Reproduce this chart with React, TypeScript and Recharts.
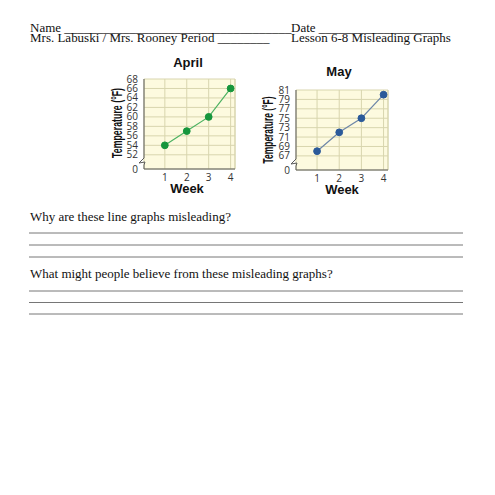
import React from "react";
import { LineChart, Line, XAxis, YAxis, CartesianGrid, ReferenceLine } from "recharts";

const weeks = [1, 2, 3, 4];
const aprilTemps = [54, 57, 60, 66];
const mayTemps = [68, 72, 75, 80];
const aprilTicks = [49, 52, 54, 56, 58, 60, 62, 64, 66, 68];
const mayTicks = [64, 67, 69, 71, 73, 75, 77, 79, 81];
const aprilBreak = 49; // shown as "0"
const mayBreak = 64; // shown as "0"
const xDomain: [number, number] = [0.05, 4.2];

const aprilData = weeks.map((w, i) => ({ week: w, temp: aprilTemps[i] }));
const mayData = weeks.map((w, i) => ({ week: w, temp: mayTemps[i] }));

const BG = "#FDFADF";
const GRID = "#D8D5AE";
const AXIS = "#5a5a5a";
const TICK_FONT = { fontSize: 10, fill: "#333", fontFamily: "'Open Sans', 'Liberation Sans', sans-serif" };

const BrokenAxis = (props: any) => {
  const { x1, y1, y2 } = props;
  const top = Math.min(y1, y2);
  const bottom = Math.max(y1, y2);
  const yb = bottom - 7;
  const d = `M${x1},${top} L${x1},${yb - 4} L${x1 - 5},${yb + 1} L${x1 + 1},${yb} L${x1},${yb + 3} L${x1},${bottom}`;
  return <path d={d} stroke={AXIS} strokeWidth={1} fill="none" />;
};

type MiniProps = {
  data: { week: number; temp: number }[];
  ticks: number[];
  breakVal: number;
  lineColor: string;
  dotColor: string;
  margin: { top: number; right: number; bottom: number; left: number };
  width: number;
  height: number;
};

const MiniChart = ({ data, ticks, breakVal, lineColor, dotColor, margin, width, height }: MiniProps) => {
  const yDomain: [number, number] = [ticks[0], ticks[ticks.length - 1]];
  return (
    <LineChart width={width} height={height} data={data} margin={margin}>
      <CartesianGrid fill={BG} stroke={GRID} strokeWidth={1} />
      <XAxis
        dataKey="week"
        type="number"
        domain={xDomain}
        ticks={weeks}
        allowDataOverflow
        tickLine={false}
        tickSize={3}
        tickMargin={2}
        height={20}
        axisLine={{ stroke: AXIS, strokeWidth: 1 }}
        tick={TICK_FONT}
      />
      <YAxis
        type="number"
        domain={yDomain}
        ticks={ticks}
        allowDataOverflow
        interval={0}
        tickLine={false}
        tickSize={4}
        tickMargin={2}
        width={40}
        axisLine={false}
        tick={TICK_FONT}
        tickFormatter={(v: number) => (v === breakVal ? "0" : String(v))}
      />
      <ReferenceLine x={xDomain[1]} stroke={GRID} strokeWidth={1} />
      <ReferenceLine x={xDomain[0]} shape={BrokenAxis} />
      <Line
        type="linear"
        dataKey="temp"
        stroke={lineColor}
        strokeWidth={1.2}
        dot={{ r: 3.4, fill: dotColor, stroke: dotColor, strokeWidth: 1 }}
        isAnimationActive={false}
      />
    </LineChart>
  );
};

const serif = "'Liberation Serif', 'Times New Roman', serif";
const boldSans = "'Liberation Sans', Arial, sans-serif";

const SerifLine = ({ x, y, children }: { x: number; y: number; children: string }) => (
  <text transform={`translate(${x},${y}) scale(1.13,1)`} x={0} y={0}>
    {children}
  </text>
);

export default function App() {
  const ansLines1 = [233, 245, 257];
  const ansLines2 = [291, 302.5, 314];
  return (
    <div style={{ position: "absolute", left: 0, top: 0, width: 495, height: 495, background: "#fff", overflow: "hidden" }}>
      <svg width={495} height={495} style={{ position: "absolute", left: 0, top: 0 }}>
        <g fontFamily={serif} fontSize={11.5} fill="#111">
          <SerifLine x={30} y={31.5}>Name ___________________________________</SerifLine>
          <SerifLine x={291} y={31.5}>Date ___________________</SerifLine>
          <SerifLine x={30} y={42}>Mrs. Labuski / Mrs. Rooney Period ________</SerifLine>
          <SerifLine x={291} y={42}>Lesson 6-8 Misleading Graphs</SerifLine>
          <SerifLine x={30} y={221}>Why are these line graphs misleading?</SerifLine>
          <SerifLine x={30} y={278}>What might people believe from these misleading graphs?</SerifLine>
        </g>
        {ansLines1.concat(ansLines2).map((y) => (
          <line key={y} x1={29} x2={463} y1={y} y2={y} stroke="#666" strokeWidth={0.9} />
        ))}
        <g fontFamily={boldSans} fontWeight="bold" fill="#111">
          <text x={188} y={67} fontSize={13} textAnchor="middle">April</text>
          <text x={339} y={76} fontSize={13} textAnchor="middle">May</text>
          <text x={187} y={193} fontSize={13} textAnchor="middle">Week</text>
          <text x={342} y={194} fontSize={13} textAnchor="middle">Week</text>
          <text
            x={0}
            y={0}
            fontSize={14}
            textAnchor="middle"
            textLength={70}
            lengthAdjust="spacingAndGlyphs"
            transform="translate(122,123) rotate(-90)"
          >
            Temperature (°F)
          </text>
          <text
            x={0}
            y={0}
            fontSize={14}
            textAnchor="middle"
            textLength={67}
            lengthAdjust="spacingAndGlyphs"
            transform="translate(273,130) rotate(-90)"
          >
            Temperature (°F)
          </text>
        </g>
      </svg>
      <div style={{ position: "absolute", left: 100, top: 50 }}>
        <MiniChart
          data={aprilData}
          ticks={aprilTicks}
          breakVal={aprilBreak}
          lineColor="#4DB262"
          dotColor="#16963D"
          width={150}
          height={150}
          margin={{ top: 29, right: 15, bottom: 11, left: 4 }}
        />
      </div>
      <div style={{ position: "absolute", left: 252, top: 50 }}>
        <MiniChart
          data={mayData}
          ticks={mayTicks}
          breakVal={mayBreak}
          lineColor="#6D86A8"
          dotColor="#2B5A9A"
          width={150}
          height={150}
          margin={{ top: 40, right: 14, bottom: 10, left: 4 }}
        />
      </div>
    </div>
  );
}
